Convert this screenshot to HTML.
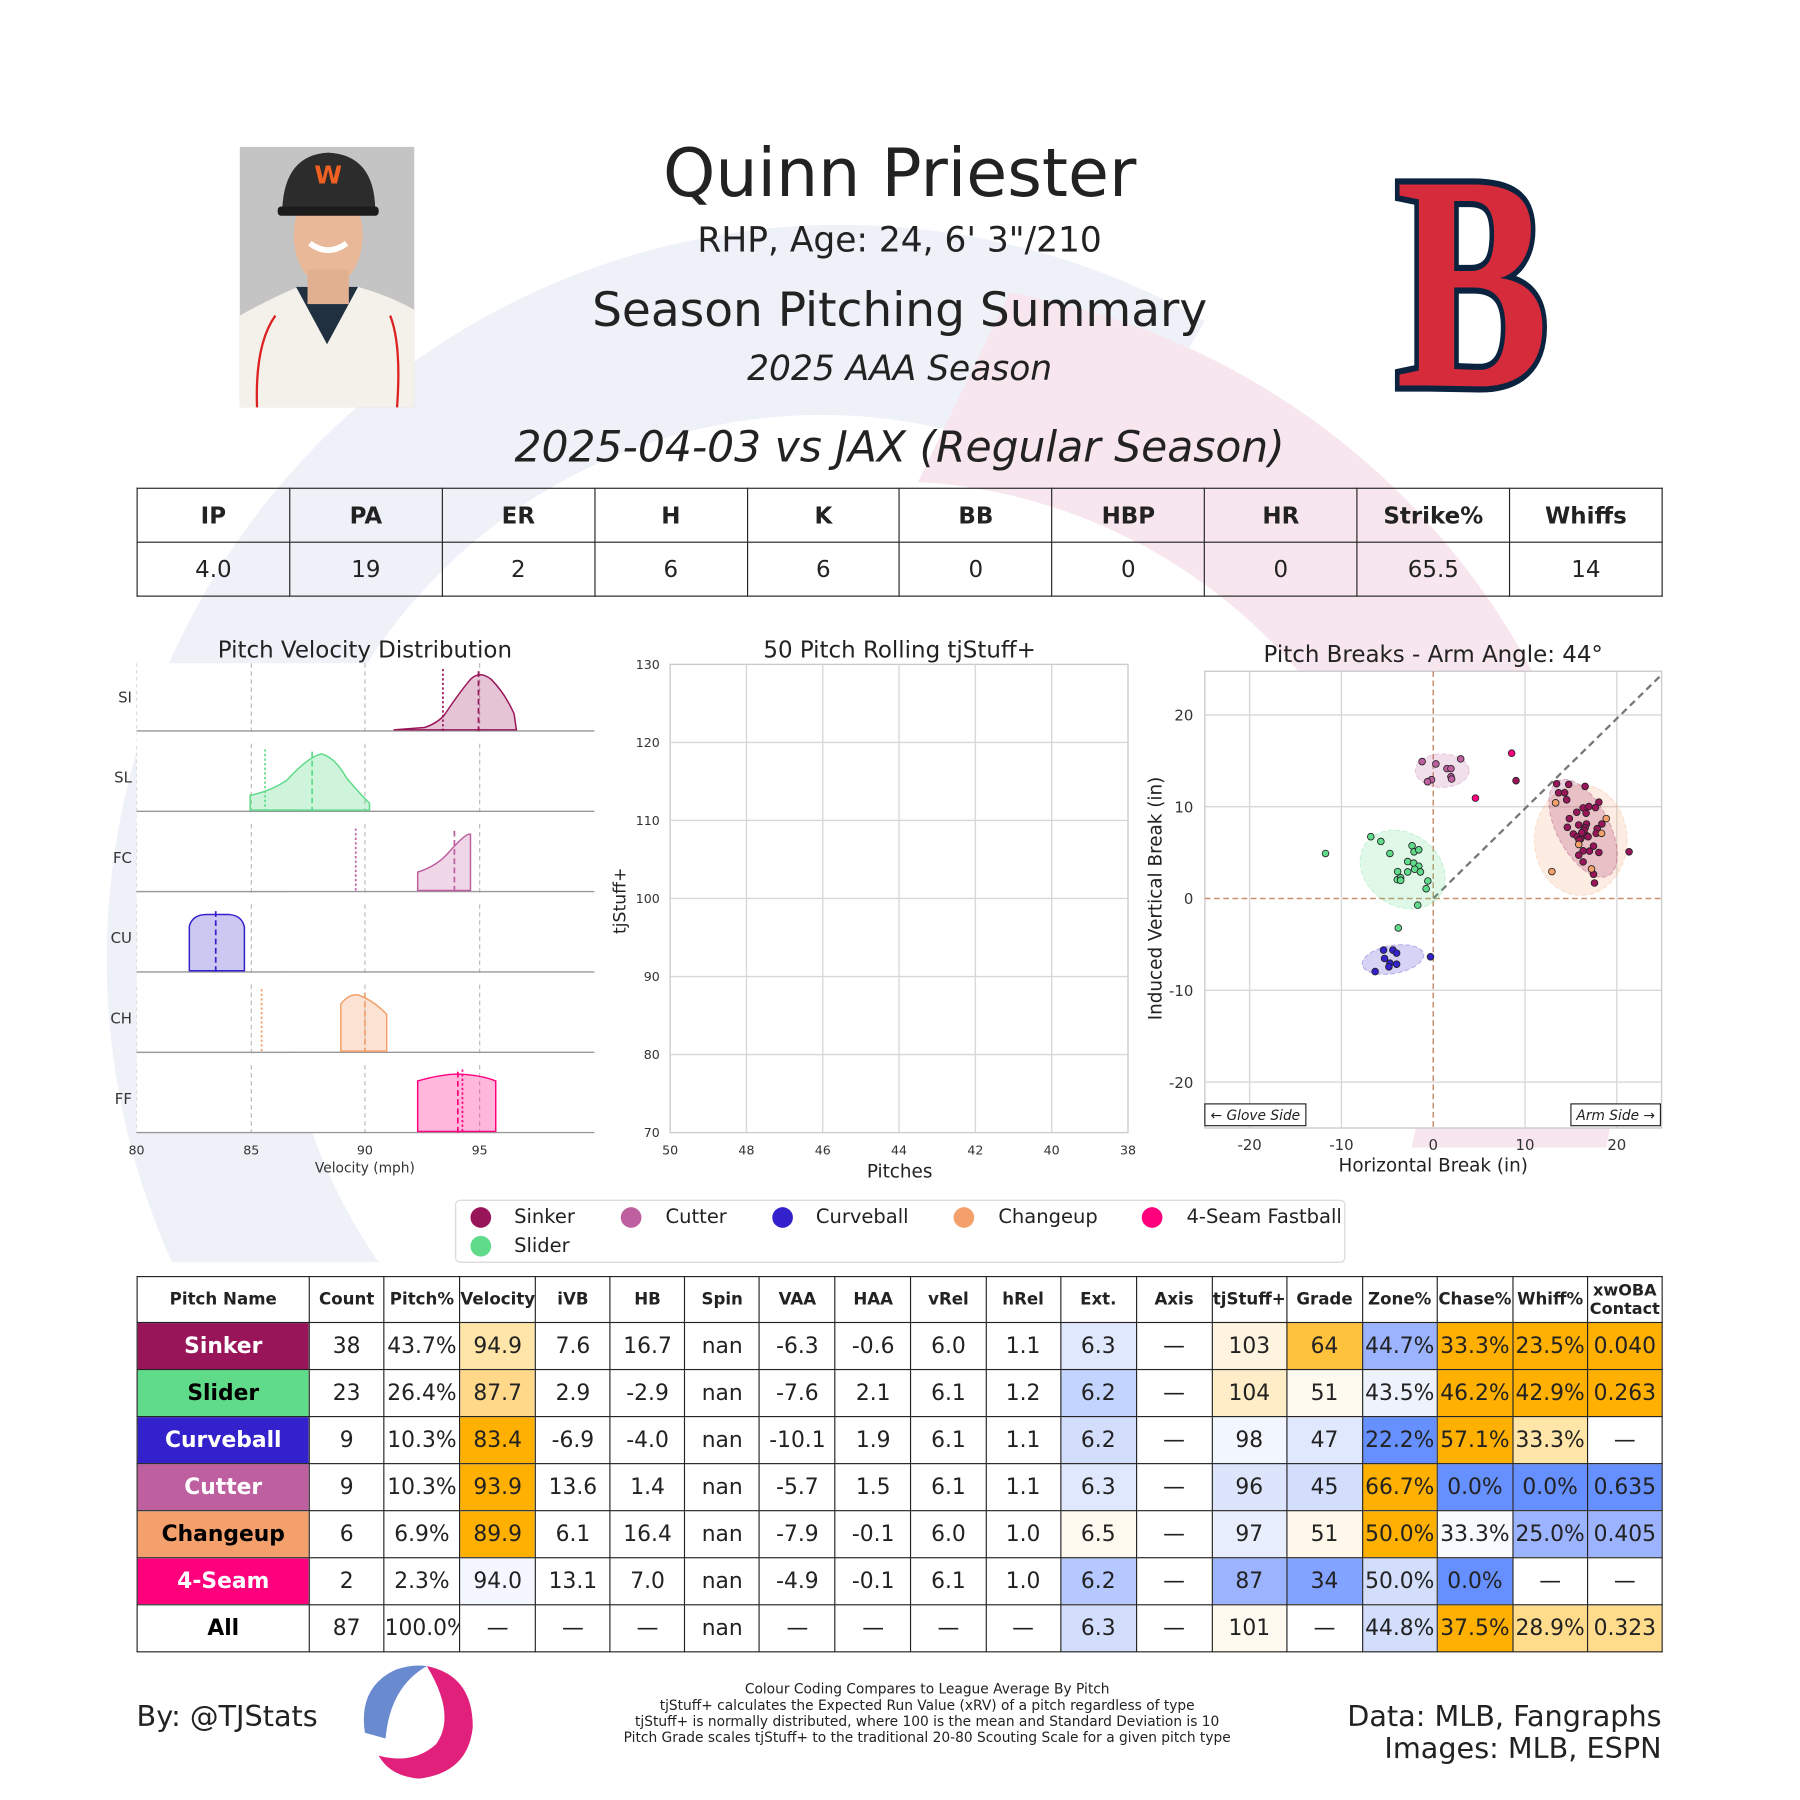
<!DOCTYPE html>
<html><head><meta charset="utf-8">
<style>
html,body{margin:0;padding:0;background:#fff;}
#wrap{width:1800px;height:1800px;overflow:hidden;position:relative;}
#page{position:absolute;left:0;top:0;width:1568px;height:1568px;transform:scale(1.1475);transform-origin:0 0;font-family:"DejaVu Sans","Liberation Sans",sans-serif;color:#222;}
svg{position:absolute;left:0;top:0;}
table{position:absolute;border-collapse:collapse;table-layout:fixed;font-family:"DejaVu Sans","Liberation Sans",sans-serif;}
td{border:1.2px solid #222;text-align:center;padding:0;overflow:hidden;white-space:nowrap;color:#222;}
#top td{height:46px;font-size:20px;}
#top tr:first-child td{font-weight:bold;}
#bt td{height:40px;font-size:19px;}
#bt tr:first-child td{font-weight:bold;font-size:14.5px;height:39px;}
#bt td.n{font-weight:bold;font-size:19px;}
</style></head><body><div id="wrap"><div id="page">
<svg width="1568" height="1568" viewBox="0 0 1568 1568" font-family="DejaVu Sans, Liberation Sans, sans-serif">
<!-- watermark -->
<path d="M 150 1100 A 640 640 0 0 1 1050 280 L 960 430 A 470 470 0 0 0 330 1100 Z" fill="#eef1f8"/>
<path d="M 880 255 A 640 640 0 0 1 1400 1000 L 1230 1000 A 470 470 0 0 0 800 420 Z" fill="#f8e6ee"/>
<!-- axes white backgrounds -->
<g fill="#fff">
<rect x="119" y="578" width="400" height="59"/><rect x="119" y="648" width="400" height="59"/><rect x="119" y="718" width="400" height="59"/><rect x="119" y="788" width="400" height="59"/><rect x="119" y="858" width="400" height="59"/><rect x="119" y="928" width="400" height="59"/>
<rect x="584" y="579" width="399" height="408"/>
<rect x="1050" y="585" width="398" height="398"/>
</g>
<!-- photo -->
<rect x="209" y="128" width="152" height="227" fill="#c4c4c4"/>
<path d="M209 275 Q240 258 260 250 L312 250 Q340 258 361 270 L361 355 L209 355 Z" fill="#f4f1ea"/>
<path d="M258 250 L285 300 L312 250 Z" fill="#203040"/>
<path d="M224 355 Q222 300 240 275 M346 355 Q350 300 340 275" stroke="#d22" stroke-width="2" fill="none"/>
<ellipse cx="286" cy="205" rx="30" ry="45" fill="#e8b898"/>
<rect x="268" y="235" width="36" height="30" fill="#e0b090"/>
<path d="M246 182 Q248 135 286 133 Q326 135 327 182 Z" fill="#2c2c2c"/>
<rect x="242" y="180" width="88" height="8" rx="3" fill="#1c1c1c"/>
<text x="286" y="160" font-size="22" font-weight="bold" fill="#f06020" text-anchor="middle">W</text>
<path d="M270 212 Q286 224 302 212" stroke="#fff" stroke-width="5" fill="none"/>
<!-- B logo -->
<g transform="translate(1283,0) scale(0.8,1.07)">
<text x="0" y="314" font-family="Liberation Serif, serif" font-weight="bold" font-size="250" fill="#d52b3a" stroke="#0c2340" stroke-width="10" paint-order="stroke" text-anchor="middle">B</text>
</g>
<!-- titles -->
<text x="784" y="171" font-size="58" text-anchor="middle" fill="#222">Quinn Priester</text>
<text x="784" y="219" font-size="30" text-anchor="middle" fill="#222">RHP, Age: 24, 6' 3"/210</text>
<text x="784" y="284" font-size="41" text-anchor="middle" fill="#222">Season Pitching Summary</text>
<text x="784" y="331" font-size="30" font-style="italic" text-anchor="middle" fill="#222">2025 AAA Season</text>
<text x="784" y="402" font-size="37" font-style="italic" text-anchor="middle" fill="#222">2025-04-03 vs JAX (Regular Season)</text>

<!-- Velocity distribution -->
<text x="318" y="573" font-size="20" text-anchor="middle" fill="#222">Pitch Velocity Distribution</text>
<g stroke="#bbb" stroke-dasharray="4,3" stroke-width="1">
<line x1="119" y1="578" x2="119" y2="987" stroke-dasharray="3,3" stroke="#ddd"/>
<line x1="219" y1="578" x2="219" y2="987"/><line x1="318" y1="578" x2="318" y2="987"/><line x1="418" y1="578" x2="418" y2="987"/>
</g>
<g fill="#fff"><rect x="119" y="638" width="400" height="10"/><rect x="119" y="708" width="400" height="10"/><rect x="119" y="778" width="400" height="10"/><rect x="119" y="848" width="400" height="10"/><rect x="119" y="918" width="400" height="10"/></g>
<g stroke="#999" stroke-width="1.2">
<line x1="119" y1="637" x2="518" y2="637"/><line x1="119" y1="707" x2="518" y2="707"/><line x1="119" y1="777" x2="518" y2="777"/><line x1="119" y1="847" x2="518" y2="847"/><line x1="119" y1="917" x2="518" y2="917"/><line x1="119" y1="987" x2="518" y2="987"/>
</g>
<g font-size="13" fill="#333" text-anchor="end">
<text x="115" y="612">SI</text><text x="115" y="682">SL</text><text x="115" y="752">FC</text><text x="115" y="822">CU</text><text x="115" y="892">CH</text><text x="115" y="962">FF</text>
</g>
<path d="M343 636 L370 634 Q382 630 388 622 Q400 604 410 592 Q418 584 428 592 Q440 604 448 622 L450 636 Z" fill="#99155a" fill-opacity="0.25" stroke="#99155a" stroke-width="1.3"/>
<line x1="386" y1="583" x2="386" y2="637" stroke="#99155a" stroke-dasharray="2,2" stroke-width="1.5"/>
<line x1="417" y1="585" x2="417" y2="637" stroke="#99155a" stroke-dasharray="5,3" stroke-width="1.5"/>
<path d="M218 706 L218 693 Q235 690 250 680 Q268 660 280 657 Q292 660 302 678 Q314 692 322 700 L322 706 Z" fill="#5fdb8a" fill-opacity="0.3" stroke="#5fdb8a" stroke-width="1.3"/>
<line x1="231" y1="653" x2="231" y2="707" stroke="#5fdb8a" stroke-dasharray="2,2" stroke-width="1.5"/>
<line x1="272" y1="655" x2="272" y2="707" stroke="#5fdb8a" stroke-dasharray="5,3" stroke-width="1.5"/>
<path d="M364 776 L364 760 Q380 755 390 744 Q402 730 408 727 L410 727 L410 776 Z" fill="#be5fa0" fill-opacity="0.25" stroke="#be5fa0" stroke-width="1.3"/>
<line x1="310" y1="722" x2="310" y2="777" stroke="#be5fa0" stroke-dasharray="2,2" stroke-width="1.5"/>
<line x1="396" y1="724" x2="396" y2="777" stroke="#be5fa0" stroke-dasharray="5,3" stroke-width="1.5"/>
<path d="M165 846 L165 807 Q168 797 180 797 L200 797 Q211 798 213 808 L213 846 Z" fill="#3322cc" fill-opacity="0.25" stroke="#3322cc" stroke-width="1.3"/>
<line x1="188" y1="794" x2="188" y2="847" stroke="#3322cc" stroke-dasharray="5,3" stroke-width="1.5"/>
<path d="M297 916 L297 875 Q304 866 312 867 Q326 872 337 884 L337 916 Z" fill="#f4a06c" fill-opacity="0.3" stroke="#f4a06c" stroke-width="1.3"/>
<line x1="228" y1="862" x2="228" y2="917" stroke="#f4a06c" stroke-dasharray="2,2" stroke-width="1.5"/>
<line x1="318" y1="865" x2="318" y2="917" stroke="#f4a06c" stroke-dasharray="5,3" stroke-width="1.5"/>
<path d="M364 986 L364 942 Q385 936 400 936 Q420 937 432 942 L432 986 Z" fill="#ff007d" fill-opacity="0.28" stroke="#ff007d" stroke-width="1.3"/>
<line x1="403" y1="932" x2="403" y2="987" stroke="#ff007d" stroke-dasharray="2,2" stroke-width="1.5"/>
<line x1="399" y1="934" x2="399" y2="987" stroke="#ff007d" stroke-dasharray="5,3" stroke-width="1.5"/>
<g font-size="11" fill="#333" text-anchor="middle">
<text x="119" y="1006">80</text><text x="219" y="1006">85</text><text x="318" y="1006">90</text><text x="418" y="1006">95</text>
<text x="318" y="1022" font-size="12">Velocity (mph)</text>
</g>

<!-- rolling tjStuff -->
<text x="784" y="573" font-size="20" text-anchor="middle" fill="#222">50 Pitch Rolling tjStuff+</text>
<g stroke="#d8d8d8" stroke-width="1.2">
<line x1="650.5" y1="579" x2="650.5" y2="987"/><line x1="717" y1="579" x2="717" y2="987"/><line x1="783.5" y1="579" x2="783.5" y2="987"/><line x1="850" y1="579" x2="850" y2="987"/><line x1="916.5" y1="579" x2="916.5" y2="987"/>
<line x1="584" y1="647" x2="983" y2="647"/><line x1="584" y1="715" x2="983" y2="715"/><line x1="584" y1="783" x2="983" y2="783"/><line x1="584" y1="851" x2="983" y2="851"/><line x1="584" y1="919" x2="983" y2="919"/>
</g>
<rect x="584" y="579" width="399" height="408" fill="none" stroke="#ccc" stroke-width="1.2"/>
<g font-size="11" fill="#333" text-anchor="end">
<text x="575" y="583">130</text><text x="575" y="651">120</text><text x="575" y="719">110</text><text x="575" y="787">100</text><text x="575" y="855">90</text><text x="575" y="923">80</text><text x="575" y="991">70</text>
</g>
<g font-size="11" fill="#333" text-anchor="middle">
<text x="584" y="1006">50</text><text x="650.5" y="1006">48</text><text x="717" y="1006">46</text><text x="783.5" y="1006">44</text><text x="850" y="1006">42</text><text x="916.5" y="1006">40</text><text x="983" y="1006">38</text>
</g>
<text x="784" y="1026" font-size="16" text-anchor="middle" fill="#222">Pitches</text>
<text transform="translate(545,785) rotate(-90)" font-size="15" text-anchor="middle" fill="#222">tjStuff+</text>

<!-- pitch breaks -->
<text x="1249" y="577" font-size="20" text-anchor="middle" fill="#222">Pitch Breaks - Arm Angle: 44°</text>
<g stroke="#d8d8d8" stroke-width="1.2">
<line x1="1089" y1="585" x2="1089" y2="983"/><line x1="1169" y1="585" x2="1169" y2="983"/><line x1="1329" y1="585" x2="1329" y2="983"/><line x1="1409" y1="585" x2="1409" y2="983"/>
<line x1="1050" y1="623" x2="1448" y2="623"/><line x1="1050" y1="703" x2="1448" y2="703"/><line x1="1050" y1="863" x2="1448" y2="863"/><line x1="1050" y1="943" x2="1448" y2="943"/>
</g>
<rect x="1050" y="585" width="398" height="398" fill="none" stroke="#ccc" stroke-width="1.2"/>
<g stroke="#c8906e" stroke-dasharray="5,3" stroke-width="1.3">
<line x1="1249" y1="585" x2="1249" y2="983"/><line x1="1050" y1="783" x2="1448" y2="783"/>
</g>
<line x1="1249" y1="783" x2="1448" y2="588" stroke="#777" stroke-dasharray="6,4" stroke-width="2"/>
<g transform="translate(996.7,632.7) scale(0.2923)">
<g stroke-dasharray="14,8" stroke-width="3">
<ellipse cx="1303" cy="340" rx="138" ry="165" fill="#f4a06c" fill-opacity="0.2" stroke="#f4a06c" stroke-opacity="0.3"/>
<ellipse cx="1310" cy="305" rx="78" ry="160" transform="rotate(-28 1310 305)" fill="#99155a" fill-opacity="0.2" stroke="#99155a" stroke-opacity="0.3"/>
<ellipse cx="772" cy="428" rx="135" ry="108" transform="rotate(35 772 428)" fill="#5fdb8a" fill-opacity="0.2" stroke="#5fdb8a" stroke-opacity="0.3"/>
<ellipse cx="890" cy="133" rx="80" ry="50" fill="#be5fa0" fill-opacity="0.2" stroke="#be5fa0" stroke-opacity="0.3"/>
<ellipse cx="743" cy="696" rx="93" ry="42" transform="rotate(-10 743 696)" fill="#3322cc" fill-opacity="0.2" stroke="#3322cc" stroke-opacity="0.3"/>
</g>
<g stroke="#222" stroke-width="2.5" fill="#99155a">
<circle cx="1231" cy="172" r="10"/><circle cx="1267" cy="174" r="10"/><circle cx="1316" cy="180" r="10"/><circle cx="1237" cy="199" r="10"/><circle cx="1255" cy="199" r="10"/><circle cx="1261" cy="220" r="10"/><circle cx="1357" cy="227" r="10"/><circle cx="1310" cy="244" r="10"/><circle cx="1327" cy="240" r="10"/><circle cx="1347" cy="243" r="10"/><circle cx="1291" cy="257" r="10"/><circle cx="1319" cy="260" r="10"/><circle cx="1269" cy="276" r="10"/><circle cx="1320" cy="292" r="10"/><circle cx="1316" cy="303" r="10"/><circle cx="1263" cy="302" r="10"/><circle cx="1352" cy="306" r="10"/><circle cx="1366" cy="292" r="10"/><circle cx="1349" cy="320" r="10"/><circle cx="1281" cy="322" r="10"/><circle cx="1293" cy="330" r="10"/><circle cx="1303" cy="336" r="10"/><circle cx="1319" cy="326" r="10"/><circle cx="1325" cy="330" r="10"/><circle cx="1341" cy="358" r="10"/><circle cx="1310" cy="372" r="10"/><circle cx="1329" cy="373" r="10"/><circle cx="1357" cy="377" r="10"/><circle cx="1297" cy="385" r="10"/><circle cx="1310" cy="405" r="10"/><circle cx="1341" cy="442" r="10"/><circle cx="1344" cy="468" r="10"/><circle cx="1447" cy="375" r="10"/><circle cx="1110" cy="163" r="10"/><circle cx="1297" cy="295" r="10"/><circle cx="1313" cy="311" r="10"/><circle cx="1306" cy="318" r="10"/><circle cx="1298" cy="340" r="10"/>
</g>
<g stroke="#222" stroke-width="2.5" fill="#f4a06c">
<circle cx="1228" cy="229" r="10"/><circle cx="1379" cy="276" r="10"/><circle cx="1365" cy="320" r="10"/><circle cx="1297" cy="353" r="10"/><circle cx="1217" cy="434" r="10"/><circle cx="1335" cy="426" r="10"/>
</g>
<g stroke="#222" stroke-width="2.5" fill="#ff007d"><circle cx="1097" cy="81" r="10"/><circle cx="989" cy="215" r="10"/></g>
<g stroke="#222" stroke-width="2.5" fill="#be5fa0">
<circle cx="830" cy="106" r="10"/><circle cx="871" cy="113" r="10"/><circle cx="945" cy="98" r="10"/><circle cx="904" cy="127" r="10"/><circle cx="916" cy="127" r="10"/><circle cx="858" cy="160" r="10"/><circle cx="846" cy="166" r="10"/><circle cx="916" cy="151" r="10"/><circle cx="918" cy="158" r="10"/>
</g>
<g stroke="#222" stroke-width="2.5" fill="#5fdb8a">
<circle cx="677" cy="330" r="10"/><circle cx="707" cy="344" r="10"/><circle cx="734" cy="380" r="10"/><circle cx="542" cy="380" r="10"/><circle cx="800" cy="357" r="10"/><circle cx="806" cy="375" r="10"/><circle cx="820" cy="369" r="10"/><circle cx="787" cy="404" r="10"/><circle cx="805" cy="409" r="10"/><circle cx="820" cy="418" r="10"/><circle cx="808" cy="427" r="10"/><circle cx="825" cy="435" r="10"/><circle cx="757" cy="434" r="10"/><circle cx="787" cy="435" r="10"/><circle cx="756" cy="458" r="10"/><circle cx="766" cy="452" r="10"/><circle cx="766" cy="460" r="10"/><circle cx="847" cy="462" r="10"/><circle cx="842" cy="485" r="10"/><circle cx="817" cy="534" r="10"/><circle cx="759" cy="602" r="10"/>
</g>
<g stroke="#222" stroke-width="2.5" fill="#3322cc">
<circle cx="715" cy="668" r="10"/><circle cx="743" cy="668" r="10"/><circle cx="754" cy="677" r="10"/><circle cx="718" cy="693" r="10"/><circle cx="734" cy="707" r="10"/><circle cx="754" cy="710" r="10"/><circle cx="731" cy="718" r="10"/><circle cx="690" cy="732" r="10"/><circle cx="855" cy="688" r="10"/>
</g>
</g>
<g font-size="13" fill="#333" text-anchor="end">
<text x="1040" y="628">20</text><text x="1040" y="708">10</text><text x="1040" y="788">0</text><text x="1040" y="868">-10</text><text x="1040" y="948">-20</text>
</g>
<g font-size="13" fill="#333" text-anchor="middle">
<text x="1089" y="1002">-20</text><text x="1169" y="1002">-10</text><text x="1249" y="1002">0</text><text x="1329" y="1002">10</text><text x="1409" y="1002">20</text>
</g>
<text x="1249" y="1021" font-size="16" text-anchor="middle" fill="#222">Horizontal Break (in)</text>
<text transform="translate(1012,783) rotate(-90)" font-size="16" text-anchor="middle" fill="#222">Induced Vertical Break (in)</text>
<rect x="1050" y="962" width="88" height="19" fill="#fff" stroke="#222" stroke-width="1"/>
<text x="1094" y="976" font-size="12" font-style="italic" text-anchor="middle" fill="#222">← Glove Side</text>
<rect x="1369" y="962" width="78" height="19" fill="#fff" stroke="#222" stroke-width="1"/>
<text x="1408" y="976" font-size="12" font-style="italic" text-anchor="middle" fill="#222">Arm Side →</text>

<!-- legend -->
<rect x="397" y="1046" width="775" height="54" rx="4" fill="#fff" stroke="#ddd" stroke-width="1.2"/>
<g font-size="17" fill="#222">
<circle cx="419" cy="1061" r="9" fill="#99155a"/><text x="448" y="1066">Sinker</text>
<circle cx="550" cy="1061" r="9" fill="#be5fa0"/><text x="580" y="1066">Cutter</text>
<circle cx="682" cy="1061" r="9" fill="#3322cc"/><text x="711" y="1066">Curveball</text>
<circle cx="840" cy="1061" r="9" fill="#f4a06c"/><text x="870" y="1066">Changeup</text>
<circle cx="1004" cy="1061" r="9" fill="#ff007d"/><text x="1034" y="1066">4-Seam Fastball</text>
<circle cx="419" cy="1086" r="9" fill="#5fdb8a"/><text x="448" y="1091">Slider</text>
</g>

<!-- footer -->
<text x="119" y="1504" font-size="25" fill="#222">By: @TJStats</text>
<text x="1448" y="1504" font-size="25" fill="#222" text-anchor="end">Data: MLB, Fangraphs</text>
<text x="1448" y="1532" font-size="25" fill="#222" text-anchor="end">Images: MLB, ESPN</text>
<g font-size="12" fill="#222" text-anchor="middle">
<text x="808" y="1476">Colour Coding Compares to League Average By Pitch</text>
<text x="808" y="1490">tjStuff+ calculates the Expected Run Value (xRV) of a pitch regardless of type</text>
<text x="808" y="1504">tjStuff+ is normally distributed, where 100 is the mean and Standard Deviation is 10</text>
<text x="808" y="1518">Pitch Grade scales tjStuff+ to the traditional 20-80 Scouting Scale for a given pitch type</text>
</g>
<path d="M 318 1510 Q 312 1470 345 1455 Q 360 1450 372 1452 Q 340 1470 336 1515 Z" fill="#6a8ad0"/>
<path d="M 372 1452 Q 412 1460 412 1505 Q 408 1545 365 1550 Q 340 1548 330 1530 Q 360 1538 380 1520 Q 398 1495 372 1452 Z" fill="#e0207a"/>
</svg>

<table id="top" style="left:119px;top:425px;width:1330px;">
<colgroup><col span="10" style="width:10%"></colgroup>
<tr><td>IP</td><td>PA</td><td>ER</td><td>H</td><td>K</td><td>BB</td><td>HBP</td><td>HR</td><td>Strike%</td><td>Whiffs</td></tr>
<tr><td>4.0</td><td>19</td><td>2</td><td>6</td><td>6</td><td>0</td><td>0</td><td>0</td><td>65.5</td><td>14</td></tr>
</table>

<table id="bt" style="left:119px;top:1112px;width:1330px;">
<colgroup><col style="width:150px"><col style="width:65px"><col style="width:66px"><col style="width:66px"><col style="width:65px"><col style="width:65px"><col style="width:65px"><col style="width:66px"><col style="width:66px"><col style="width:65px"><col style="width:65px"><col style="width:66px"><col style="width:66px"><col style="width:65px"><col style="width:66px"><col style="width:65px"><col style="width:66px"><col style="width:65px"><col style="width:65px"></colgroup>
<tr><td>Pitch Name</td><td>Count</td><td>Pitch%</td><td>Velocity</td><td>iVB</td><td>HB</td><td>Spin</td><td>VAA</td><td>HAA</td><td>vRel</td><td>hRel</td><td>Ext.</td><td>Axis</td><td>tjStuff+</td><td>Grade</td><td>Zone%</td><td>Chase%</td><td>Whiff%</td><td style="font-size:14px;line-height:16px;white-space:normal">xwOBA Contact</td></tr>
<tr><td class="n" style="background:#99155a;color:#fff">Sinker</td><td>38</td><td>43.7%</td><td style="background:#ffe6a8">94.9</td><td>7.6</td><td>16.7</td><td>nan</td><td>-6.3</td><td>-0.6</td><td>6.0</td><td>1.1</td><td style="background:#e0e8fd">6.3</td><td>—</td><td style="background:#fff4e0">103</td><td style="background:#ffc23c">64</td><td style="background:#9cb4ff">44.7%</td><td style="background:#ffb000">33.3%</td><td style="background:#ffb000">23.5%</td><td style="background:#ffb000">0.040</td></tr>
<tr><td class="n" style="background:#5fdb8a;color:#000">Slider</td><td>23</td><td>26.4%</td><td style="background:#ffd88a">87.7</td><td>2.9</td><td>-2.9</td><td>nan</td><td>-7.6</td><td>2.1</td><td>6.1</td><td>1.2</td><td style="background:#c3d4ff">6.2</td><td>—</td><td style="background:#ffedc8">104</td><td style="background:#fffaf0">51</td><td style="background:#eef2fd">43.5%</td><td style="background:#ffb000">46.2%</td><td style="background:#ffb000">42.9%</td><td style="background:#ffb000">0.263</td></tr>
<tr><td class="n" style="background:#3322cc;color:#fff">Curveball</td><td>9</td><td>10.3%</td><td style="background:#ffb000">83.4</td><td>-6.9</td><td>-4.0</td><td>nan</td><td>-10.1</td><td>1.9</td><td>6.1</td><td>1.1</td><td style="background:#d2defc">6.2</td><td>—</td><td style="background:#f2f6ff">98</td><td style="background:#e0e8fd">47</td><td style="background:#6690ff">22.2%</td><td style="background:#ffb000">57.1%</td><td style="background:#ffe6a8">33.3%</td><td>—</td></tr>
<tr><td class="n" style="background:#be5fa0;color:#fff">Cutter</td><td>9</td><td>10.3%</td><td style="background:#ffb000">93.9</td><td>13.6</td><td>1.4</td><td>nan</td><td>-5.7</td><td>1.5</td><td>6.1</td><td>1.1</td><td style="background:#e0e8fd">6.3</td><td>—</td><td style="background:#dde5fd">96</td><td style="background:#d2defc">45</td><td style="background:#ffb000">66.7%</td><td style="background:#6690ff">0.0%</td><td style="background:#6690ff">0.0%</td><td style="background:#6690ff">0.635</td></tr>
<tr><td class="n" style="background:#f4a06c;color:#000">Changeup</td><td>6</td><td>6.9%</td><td style="background:#ffb000">89.9</td><td>6.1</td><td>16.4</td><td>nan</td><td>-7.9</td><td>-0.1</td><td>6.0</td><td>1.0</td><td style="background:#fffaf0">6.5</td><td>—</td><td style="background:#e8eefd">97</td><td style="background:#fff8ea">51</td><td style="background:#ffb000">50.0%</td><td style="background:#f8faff">33.3%</td><td style="background:#9cb4ff">25.0%</td><td style="background:#9cb4ff">0.405</td></tr>
<tr><td class="n" style="background:#ff007d;color:#fff">4-Seam</td><td>2</td><td>2.3%</td><td style="background:#f4f7ff">94.0</td><td>13.1</td><td>7.0</td><td>nan</td><td>-4.9</td><td>-0.1</td><td>6.1</td><td>1.0</td><td style="background:#b5c8ff">6.2</td><td>—</td><td style="background:#9cb4ff">87</td><td style="background:#82a3ff">34</td><td style="background:#d2defc">50.0%</td><td style="background:#6690ff">0.0%</td><td style="background:#fff">—</td><td style="background:#fff">—</td></tr>
<tr><td class="n" style="color:#000;background:#fff">All</td><td style="background:#fff">87</td><td style="background:#fff">100.0%</td><td style="background:#fff">—</td><td style="background:#fff">—</td><td style="background:#fff">—</td><td style="background:#fff">nan</td><td style="background:#fff">—</td><td style="background:#fff">—</td><td style="background:#fff">—</td><td style="background:#fff">—</td><td style="background:#d2defc">6.3</td><td style="background:#fff">—</td><td style="background:#fffaf0">101</td><td style="background:#fff">—</td><td style="background:#d2defc">44.8%</td><td style="background:#ffb000">37.5%</td><td style="background:#ffdc8c">28.9%</td><td style="background:#ffdc8c">0.323</td></tr>
</table>
</div></div></body></html>
